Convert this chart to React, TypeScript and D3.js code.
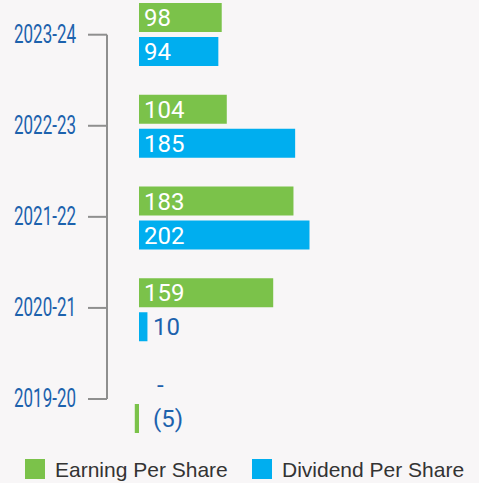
import React from "react";
import * as d3 from "d3";

const categories = ["2023-24", "2022-23", "2021-22", "2020-21", "2019-20"];
const eps = [98, 104, 183, 159, -5];
const dps = [94, 185, 202, 10, 0];
const epsLabels = ["98", "104", "183", "159", "(5)"];
const dpsLabels = ["94", "185", "202", "10", "-"];
// in the last row the EPS bar sits in the lower slot
const epsInLowerSlot = [false, false, false, false, true];
const legendItems = ["Earning Per Share", "Dividend Per Share"];

const W = 479;
const H = 483;
const GREEN = "#7bc24a";
const BLUE = "#00aeef";
const LABEL_BLUE = "#1d62ad";
const BG = "#f8f6f7";

export default function App() {
  React.useEffect(() => {
    document.body.style.margin = "0";
    document.body.style.background = BG;
  }, []);

  const x = d3.scaleLinear().domain([0, 202]).range([139, 309.5]);
  const yBars = d3.scalePoint<string>().domain(categories).range([34.5, 401.5]);
  const yAxis = d3.scalePoint<string>().domain(categories).range([34.7, 399]);
  const barH = 29;
  const colors = [GREEN, BLUE];
  const font = "Roboto, sans-serif";

  const marks: React.ReactNode[] = [];
  categories.forEach((cat, i) => {
    const c = yBars(cat)!;
    const slots = [
      { v: eps[i], lab: epsLabels[i], color: GREEN, lower: epsInLowerSlot[i] },
      { v: dps[i], lab: dpsLabels[i], color: BLUE, lower: !epsInLowerSlot[i] },
    ];
    slots.forEach((s, k) => {
      const top = s.lower ? c + 2.5 : c - 31.5;
      const x0 = Math.min(x(0), x(s.v));
      const w = Math.abs(x(s.v) - x(0));
      const mid = top + barH / 2;
      const inside = w > 40;
      marks.push(
        <g key={cat + k}>
          {w > 0 && (
            <rect x={x0} y={top} width={w} height={barH} fill={s.color} />
          )}
          <text
            x={inside ? x(0) + 5 : s.v === 0 ? 157 : x(0) + 14}
            y={mid + 8.5}
            fill={inside ? "#ffffff" : LABEL_BLUE}
            fontSize={24}
            fontFamily={font}
          >
            {s.lab}
          </text>
        </g>
      );
    });
  });

  const axisX = 107;
  const yTop = yAxis(categories[0])!;
  const yBot = yAxis(categories[categories.length - 1])!;

  return (
    <svg
      width={W}
      height={H}
      style={{ position: "absolute", left: 0, top: 0, display: "block" }}
    >
      <rect x={0} y={0} width={W} height={H} fill={BG} />
      <line x1={axisX} x2={axisX} y1={yTop} y2={yBot} stroke="#8f8f8f" strokeWidth={2} />
      {categories.map((cat) => (
        <g key={cat}>
          <line x1={88} x2={axisX} y1={yAxis(cat)!} y2={yAxis(cat)!} stroke="#8f8f8f" strokeWidth={2} />
          <text
            x={14}
            y={yAxis(cat)! + 8}
            fill={LABEL_BLUE}
            fontSize={26}
            fontFamily={font}
            textLength={62}
            lengthAdjust="spacingAndGlyphs"
          >
            {cat}
          </text>
        </g>
      ))}
      {marks}
      {legendItems.map((name, i) => {
        const lx = [25, 252][i];
        return (
          <g key={name}>
            <rect x={lx} y={459} width={20} height={20} fill={colors[i]} />
            <text
              x={lx + 30}
              y={476.5}
              fill="#333333"
              fontSize={21}
              fontFamily="'Liberation Sans', Arial, sans-serif"
            >
              {name}
            </text>
          </g>
        );
      })}
    </svg>
  );
}
